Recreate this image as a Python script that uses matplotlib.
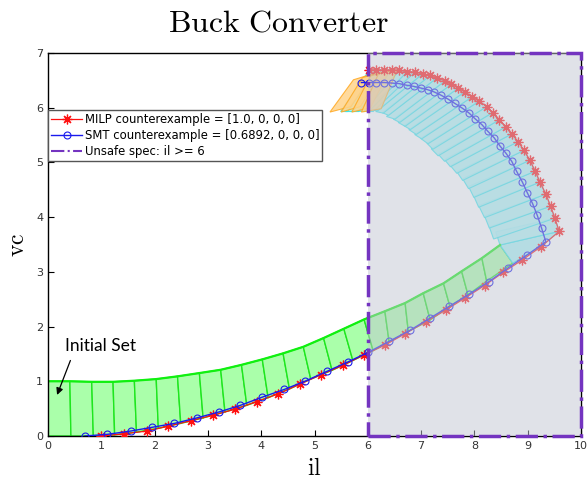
import numpy as np
import matplotlib
matplotlib.use("Agg")
import matplotlib.pyplot as plt
from matplotlib.patches import Polygon, Rectangle

plt.rcParams['mathtext.fontset'] = 'cm'

# trajectories (il, vc)
milp_il = [1.0, 1.43, 1.85, 2.26, 2.68, 3.10, 3.51, 3.92, 4.32, 4.73, 5.12, 5.53, 5.92,
           6.32, 6.70, 7.09, 7.46, 7.82, 8.19, 8.54, 8.90, 9.25, 9.59,
           9.51, 9.43, 9.34, 9.23, 9.14, 9.04, 8.93, 8.82, 8.70, 8.59, 8.47, 8.34, 8.23,
           8.09, 7.96, 7.82, 7.70, 7.57, 7.45, 7.29, 7.17, 7.03, 6.88, 6.74, 6.59, 6.45,
           6.30, 6.16, 6.03]
milp_vc = [0.0, 0.04, 0.09, 0.18, 0.28, 0.38, 0.49, 0.63, 0.77, 0.95, 1.12, 1.29, 1.48,
           1.66, 1.87, 2.09, 2.30, 2.52, 2.75, 2.99, 3.22, 3.46, 3.74,
           3.98, 4.20, 4.42, 4.64, 4.84, 5.04, 5.22, 5.38, 5.52, 5.65, 5.78, 5.91, 6.02,
           6.12, 6.20, 6.29, 6.36, 6.43, 6.49, 6.54, 6.59, 6.62, 6.65, 6.66, 6.68, 6.69,
           6.69, 6.69, 6.69]

smt_il = [0.69, 1.11, 1.55, 1.96, 2.37, 2.79, 3.21, 3.61, 4.02, 4.43, 4.82, 5.23, 5.62,
          6.01, 6.40, 6.79, 7.16, 7.53, 7.90, 8.27, 8.63, 8.99, 9.34,
          9.26, 9.18, 9.09, 8.99, 8.90, 8.79, 8.70, 8.59, 8.48, 8.37, 8.25, 8.14, 8.01,
          7.89, 7.76, 7.63, 7.50, 7.37, 7.24, 7.12, 6.99, 6.86, 6.73, 6.59, 6.45, 6.31,
          6.16, 6.02, 5.88]
smt_vc = [0.0, 0.03, 0.09, 0.16, 0.23, 0.33, 0.44, 0.56, 0.71, 0.85, 1.0, 1.18, 1.35,
          1.53, 1.73, 1.93, 2.15, 2.37, 2.59, 2.82, 3.07, 3.31, 3.55,
          3.80, 4.03, 4.25, 4.45, 4.64, 4.84, 5.02, 5.17, 5.30, 5.45, 5.57, 5.69, 5.80,
          5.91, 6.00, 6.08, 6.16, 6.23, 6.29, 6.33, 6.36, 6.39, 6.41, 6.44, 6.45, 6.46,
          6.46, 6.46, 6.46]

# green reach band: cross sections (top point, bottom point)
top_il = [0, 0.41, 0.82, 1.22, 1.62, 2.03, 2.43, 2.84, 3.24, 3.63, 4.02, 4.41, 4.79,
          5.17, 5.55, 5.93, 6.32, 6.70, 7.04, 7.42, 7.76, 8.14, 8.48]
top_vc = [1.0, 1.0, 0.99, 0.99, 1.01, 1.04, 1.09, 1.15, 1.21, 1.30, 1.40, 1.51, 1.63,
          1.79, 1.96, 2.13, 2.28, 2.43, 2.61, 2.79, 3.01, 3.25, 3.49]
bot_il = [0, 0.43, 0.85, 1.25, 1.66, 2.07, 2.49, 2.91, 3.32, 3.73, 4.13, 4.53, 4.93,
          5.33, 5.72, 6.10, 6.40, 6.76, 7.17, 7.54, 7.88, 8.23, 8.72]
bot_vc = [0, 0, 0, 0.02, 0.07, 0.14, 0.23, 0.33, 0.44, 0.56, 0.70, 0.86, 1.04,
          1.20, 1.38, 1.56, 1.72, 1.91, 2.12, 2.37, 2.58, 2.83, 3.16]

# cyan reach sets: first set closes the gap after the green band
cy_first_il = [8.48, 8.72, 9.25, 9.59]
cy_first_vc = [3.49, 3.16, 3.46, 3.74]
# outer (upper-right) corners along the arc
cy_out_il = [9.59, 9.51, 9.43, 9.34, 9.23, 9.14, 9.04, 8.93, 8.82, 8.70, 8.59, 8.47,
             8.34, 8.23, 8.09, 7.96, 7.82, 7.70, 7.57, 7.45, 7.29, 7.17, 7.03, 6.88,
             6.74, 6.59, 6.45, 6.30, 6.16, 6.03]
cy_out_vc = [3.74, 3.98, 4.20, 4.42, 4.64, 4.84, 5.04, 5.22, 5.38, 5.52, 5.65, 5.78,
             5.91, 6.02, 6.12, 6.20, 6.29, 6.36, 6.43, 6.49, 6.54, 6.59, 6.62, 6.65,
             6.66, 6.68, 6.69, 6.69, 6.69, 6.69]
# inner (lower-left) corners
cy_in_il = [8.48, 8.36, 8.28, 8.19, 8.08, 7.99, 7.89, 7.78, 7.67, 7.55, 7.44, 7.32,
            7.22, 7.13, 7.01, 6.91, 6.80, 6.70, 6.60, 6.51, 6.39, 6.29, 6.18, 6.10,
            6.02, 5.93, 5.83, 5.72, 5.62]
cy_in_vc = [3.49, 3.60, 3.80, 3.99, 4.18, 4.36, 4.52, 4.67, 4.80, 4.92, 5.02, 5.12,
            5.24, 5.34, 5.43, 5.51, 5.60, 5.66, 5.73, 5.79, 5.86, 5.90, 5.94, 5.93,
            5.93, 5.93, 5.93, 5.93, 5.93]

# orange reach sets (last steps)
or_il = [[5.29, 5.73, 6.10, 5.68], [5.50, 5.90, 6.25, 5.86],
         [5.70, 6.05, 6.40, 6.05], [5.88, 6.20, 6.55, 6.25]]
or_vc = [[5.92, 6.51, 6.62, 6.02], [5.92, 6.55, 6.65, 6.02],
         [5.92, 6.58, 6.67, 6.00], [5.92, 6.62, 6.69, 5.98]]

unsafe_il = 6

fig = plt.figure(figsize=(5.87, 4.79), dpi=100)
ax = fig.add_axes([0.0818, 0.0898, 0.908, 0.7996])

for k in range(len(top_il) - 1):
    pts = [(top_il[k], top_vc[k]), (top_il[k+1], top_vc[k+1]),
           (bot_il[k+1], bot_vc[k+1]), (bot_il[k], bot_vc[k])]
    ax.add_patch(Polygon(pts, closed=True, facecolor='#aaffaa', edgecolor='#1ee61e',
                         lw=1.0, zorder=2))
# brighter upper boundary of the band
ax.plot(top_il, top_vc, color='#10f010', lw=1.6, zorder=2.5)

cyan_face, cyan_edge = '#a8f4f6', '#30e8f0'
ax.add_patch(Polygon(list(zip(cy_first_il, cy_first_vc)), closed=True,
                     facecolor=cyan_face, edgecolor=cyan_edge, lw=0.8, zorder=2))
for k in range(len(cy_in_il)):
    dx = cy_in_il[k] - cy_out_il[k]
    dy = cy_in_vc[k] - cy_out_vc[k]
    pts = [(cy_out_il[k], cy_out_vc[k]), (cy_out_il[k+1], cy_out_vc[k+1]),
           (cy_out_il[k+1] + dx, cy_out_vc[k+1] + dy), (cy_in_il[k], cy_in_vc[k])]
    ax.add_patch(Polygon(pts, closed=True, facecolor=cyan_face, edgecolor=cyan_edge,
                         lw=0.8, alpha=0.9, zorder=2))

for xs, ys in zip(or_il, or_vc):
    ax.add_patch(Polygon(list(zip(xs, ys)), closed=True, facecolor='#ffd48c',
                         edgecolor='#ffa820', lw=0.8, alpha=0.85, zorder=3))

star = (8, 2, 0)
l1, = ax.plot(milp_il, milp_vc, '-', color='#ff1010', lw=0.9, marker=star, ms=7,
              mew=0.9, zorder=4, label='MILP counterexample = [1.0, 0, 0, 0]')
l2, = ax.plot(smt_il, smt_vc, '-', color='#1a1aee', lw=1.0, marker='o', ms=5,
              mfc='none', mew=0.8, zorder=4, label='SMT counterexample = [0.6892, 0, 0, 0]')

ax.add_patch(Rectangle((unsafe_il, 0), 10 - unsafe_il, 7, facecolor='#c2c6d2',
                       alpha=0.5, edgecolor='none', zorder=5))
ax.add_patch(Rectangle((unsafe_il, 0), 10 - unsafe_il, 7, fill=False,
                       edgecolor='#7434c0', lw=2.5, ls='-.', zorder=6, clip_on=False))
l3, = ax.plot([], [], '-.', color='#7434c0', lw=1.5, label='Unsafe spec: il >= 6')

ax.text(0.32, 1.65, 'Initial Set', fontsize=12.5, family='Lato', va='center', ha='left',
        zorder=7)
ax.annotate('', xy=(0.17, 0.75), xytext=(0.42, 1.38),
            arrowprops=dict(arrowstyle='-|>', color='black', lw=0.9, mutation_scale=10,
                            shrinkA=0, shrinkB=0), zorder=7)

ax.set_xlim(0, 10)
ax.set_ylim(0, 7)
ax.set_xticks(range(0, 11))
ax.set_yticks(range(0, 8))
ax.tick_params(direction='in', labelsize=8, labelcolor='#333333', length=4)
for s in ax.spines.values():
    s.set_linewidth(1.0)

leg = ax.legend(handles=[l1, l2, l3], loc='upper left', bbox_to_anchor=(0, 0.851),
                fontsize=8.4, frameon=True, fancybox=False, framealpha=1,
                edgecolor='#555555', handlelength=2.7, borderpad=0.25, labelspacing=0.25,
                handletextpad=0.2, borderaxespad=0)
leg.set_zorder(10)

fig.text(0.475, 0.952, r'$\mathrm{Buck\ Converter}$', fontsize=23, ha='center', va='center')
ax.set_xlabel(r'$\mathrm{il}$', fontsize=17, labelpad=4)
ax.set_ylabel(r'$\mathrm{vc}$', fontsize=17, labelpad=5)

fig.savefig('out.png', dpi=100)
